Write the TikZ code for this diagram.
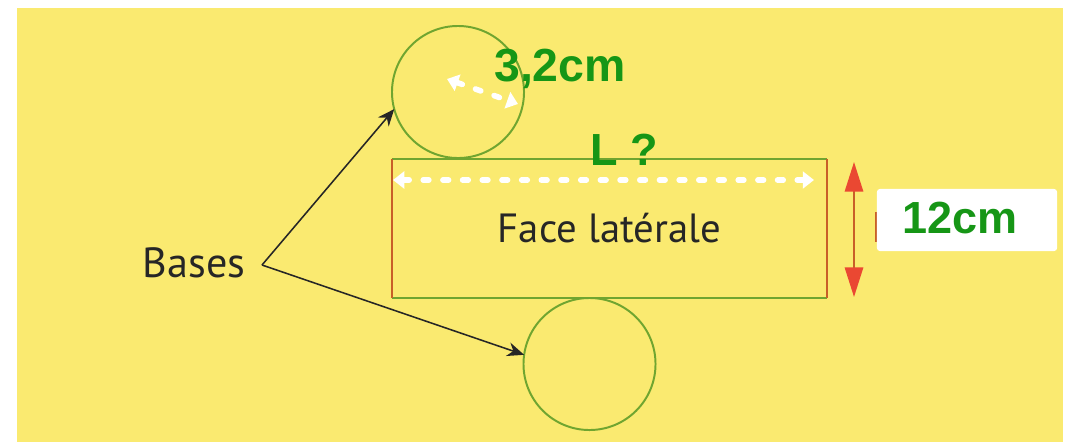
\documentclass[tikz,border=0pt]{standalone}
\usepackage{fontspec}
\setmainfont{PT Sans}
\newfontfamily\valuefont{Liberation Sans}
\usetikzlibrary{arrows.meta}

\definecolor{sheet}{RGB}{250,234,112}
\definecolor{netgreen}{RGB}{112,165,48}
\definecolor{sidered}{RGB}{200,95,40}
\definecolor{heightred}{RGB}{234,72,50}
\definecolor{valuegreen}{RGB}{22,150,22}

\tikzset{
    base/.style={circle, draw=netgreen, line width=1.4pt, minimum size=3.3cm, inner sep=0pt, outer sep=0pt},
    face/.style={minimum width=10.875cm, minimum height=3.475cm, inner sep=0pt, outer sep=0pt, text=black!85, font=\fontsize{29}{33}\selectfont},
    face top/.style={draw=netgreen, line width=1.4pt},
    face side/.style={draw=sidered, line width=1.4pt},
    pointer/.style={-{Stealth[length=12pt, width=10pt]}, line width=1.1pt, black!85},
    measure/.style={{Triangle[length=8pt, width=12pt]}-{Triangle[length=8pt, width=12pt]}, white, line width=4pt, line cap=round, dash pattern=on 4pt off 10pt},
    height arrow/.style={{Triangle[length=21pt, width=13pt, color=heightred]}-{Triangle[length=21pt, width=13pt, color=heightred]}, draw=sidered, line width=1.4pt},
    value/.style={text=valuegreen, font=\valuefont\bfseries\fontsize{33}{38}\selectfont, inner sep=0pt},
    value box/.style={fill=white, rounded corners=2pt, minimum width=4.5cm, minimum height=1.55cm, inner sep=0pt},
}

\begin{document}
\begin{tikzpicture}[x=0.025cm, y=-0.025cm]

    % Sheet
    \useasboundingbox[fill=white] (0,0) rectangle (1070,442);
    \fill[sheet] (17,8) rectangle (1063,442);

    % The two bases and the lateral face
    \node[base] (top base) at (458,92) {};
    \node[base] (bottom base) at (589.5,364) {};
    \node[face] (lateral) at (609.5,228.5) {Face latérale};
    \draw[face top] (lateral.north west) -- (lateral.north east);
    \draw[face top] (lateral.south west) -- (lateral.south east);
    \draw[face side] (lateral.north west) -- (lateral.south west);
    \draw[face side] (lateral.north east) -- (lateral.south east);

    % Label pointing at both bases
    \node[font=\fontsize{30}{36}\selectfont, text=black!85, inner sep=0pt] (bases) at (194,263) {Bases};
    \coordinate (fork) at (262,265);
    \draw[pointer] (fork) -- (top base.195);
    \draw[pointer] (fork) -- (bottom base.172);

    % Radius and length
    \coordinate (radius start) at (447,79);
    \coordinate (radius end) at (518,104);
    \draw[measure] (radius start) -- (radius end);
    \node[value] (radius) at (560,68.5) {3,2cm};
    \coordinate (length start) at (393,180);
    \coordinate (length end) at (814,180);
    \draw[measure] (length start) -- (length end);
    \node[value, font=\valuefont\bfseries\fontsize{32}{38}\selectfont] (length) at (624,150) {L ?};

    % Height
    \coordinate (height top) at (854,162);
    \coordinate (height bottom) at (854,297);
    \draw[height arrow] (height top) -- (height bottom);
    \draw[sidered, line width=2.2pt] (876.5,212) -- (876.5,242);
    \node[value box] (height box) at (967,220) {};
    \node[value, font=\valuefont\bfseries\fontsize{32}{38}\selectfont] (height) at (960,218.5) {12cm};

\end{tikzpicture}
\end{document}
